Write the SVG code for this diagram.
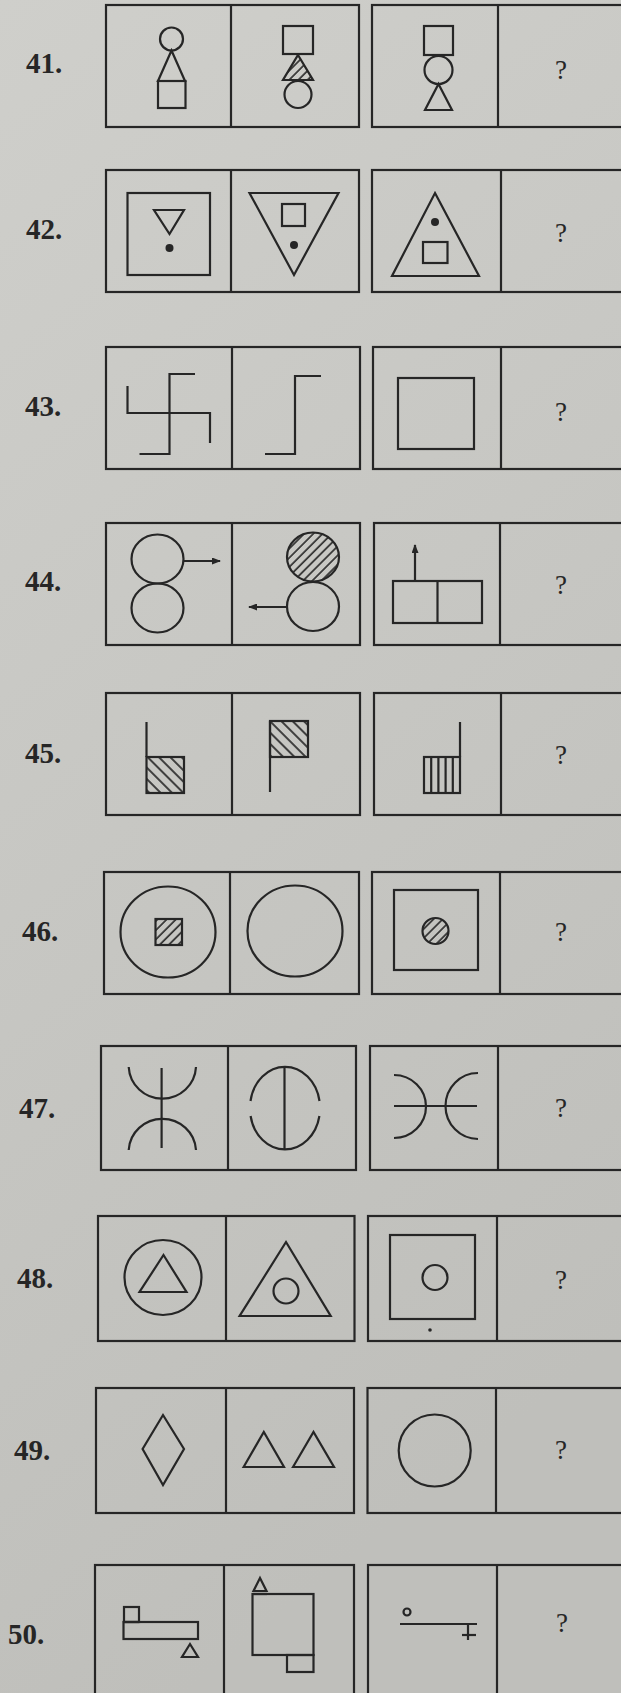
<svg xmlns="http://www.w3.org/2000/svg" width="621" height="1693" viewBox="0 0 621 1693">
<defs>
<linearGradient id="paper" x1="0" y1="0" x2="0.3" y2="1">
<stop offset="0" stop-color="#cfcfcb"/>
<stop offset="1" stop-color="#bfbfbb"/>
</linearGradient>
<pattern id="hatchF" patternUnits="userSpaceOnUse" width="6.5" height="6.5" patternTransform="rotate(45)">
<line x1="1" y1="0" x2="1" y2="6.5" stroke="#262626" stroke-width="1.6"/>
</pattern>
<pattern id="hatchB" patternUnits="userSpaceOnUse" width="8" height="8" patternTransform="rotate(-45)">
<line x1="1" y1="0" x2="1" y2="8" stroke="#262626" stroke-width="1.7"/>
</pattern>
<marker id="arr" markerWidth="9" markerHeight="7" refX="8" refY="3.5" orient="auto" markerUnits="userSpaceOnUse">
<path d="M0,0 L9,3.5 L0,7 z" fill="#262626"/>
</marker>
</defs>
<style>
.box{fill:none;stroke:#262626;stroke-width:2.2}
.s{fill:none;stroke:#262626;stroke-width:2.2}
.hf{fill:url(#hatchF)}
.hb{fill:url(#hatchB)}
.dot{fill:#262626}
.num{font-family:"Liberation Serif",serif;font-weight:bold;font-size:29px;fill:#262626}
.q{font-family:"Liberation Serif",serif;font-size:27px;fill:#262626;text-anchor:middle}
</style>
<rect x="0" y="0" width="621" height="1693" fill="url(#paper)"/>

<!-- 41 -->
<g id="q41">
<text class="num" x="26" y="73">41.</text>
<rect class="box" x="106" y="5" width="253" height="122"/>
<line class="box" x1="231" y1="5" x2="231" y2="127"/>
<rect class="box" x="372" y="5" width="270" height="122"/>
<line class="box" x1="498" y1="5" x2="498" y2="127"/>
<g id="q41-a">
<circle class="s" cx="171.5" cy="39" r="11.5"/>
<path class="s" d="M171.5,50.5 L185,81 L158,81 Z"/>
<rect class="s" x="158" y="81" width="27.5" height="27"/>
</g>
<g id="q41-b">
<rect class="s" x="283" y="26" width="30" height="28"/>
<path class="s hf" d="M298,55 L313,80 L283,80 Z"/>
<circle class="s" cx="298" cy="94.5" r="13.5"/>
</g>
<g id="q41-c">
<rect class="s" x="424" y="26" width="29" height="29"/>
<circle class="s" cx="438.5" cy="70" r="14"/>
<path class="s" d="M438.5,84 L452,110 L425,110 Z"/>
</g>
<text class="q" x="561" y="79">?</text>
</g>

<!-- 42 -->
<g id="q42">
<text class="num" x="26" y="239">42.</text>
<rect class="box" x="106" y="170" width="253" height="122"/>
<line class="box" x1="231" y1="170" x2="231" y2="292"/>
<rect class="box" x="372" y="170" width="270" height="122"/>
<line class="box" x1="501" y1="170" x2="501" y2="292"/>
<g id="q42-a">
<rect class="s" x="127.5" y="193" width="82.5" height="82"/>
<path class="s" d="M154,210 L184,210 L169.5,234 Z"/>
<circle class="dot" cx="169.5" cy="248" r="4"/>
</g>
<g id="q42-b">
<path class="s" d="M249.5,193 L338.5,193 L294,275 Z"/>
<rect class="s" x="282" y="204" width="23" height="22"/>
<circle class="dot" cx="294" cy="245" r="4"/>
</g>
<g id="q42-c">
<path class="s" d="M435,193 L479,276 L392,276 Z"/>
<circle class="dot" cx="435" cy="222" r="4"/>
<rect class="s" x="423" y="242" width="24.5" height="21"/>
</g>
<text class="q" x="561" y="242">?</text>
</g>

<!-- 43 -->
<g id="q43">
<text class="num" x="25" y="416">43.</text>
<rect class="box" x="106" y="347" width="254" height="122"/>
<line class="box" x1="232" y1="347" x2="232" y2="469"/>
<rect class="box" x="373" y="347" width="270" height="122"/>
<line class="box" x1="501" y1="347" x2="501" y2="469"/>
<g id="q43-a">
<path class="s" d="M195,374 L169.5,374 L169.5,454 L139.5,454"/>
<path class="s" d="M127.5,386 L127.5,413 L210,413 L210,443"/>
</g>
<g id="q43-b">
<path class="s" d="M321,376 L295,376 L295,454 L265,454"/>
</g>
<g id="q43-c">
<rect class="s" x="398" y="378" width="76" height="71"/>
</g>
<text class="q" x="561" y="421">?</text>
</g>

<!-- 44 -->
<g id="q44">
<text class="num" x="25" y="591">44.</text>
<rect class="box" x="106" y="523" width="254" height="122"/>
<line class="box" x1="232" y1="523" x2="232" y2="645"/>
<rect class="box" x="374" y="523" width="270" height="122"/>
<line class="box" x1="500" y1="523" x2="500" y2="645"/>
<g id="q44-a">
<ellipse class="s" cx="157.5" cy="559" rx="26" ry="24.5"/>
<ellipse class="s" cx="157.5" cy="608" rx="26" ry="24.5"/>
</g>
<g id="q44-b">
<ellipse class="s hf" cx="313" cy="557" rx="26" ry="24.5"/>
<ellipse class="s" cx="313" cy="606.5" rx="26" ry="24.5"/>
</g>
<g id="q44-c">
<rect class="s" x="393" y="581" width="89" height="42"/>
<line class="s" x1="437.5" y1="581" x2="437.5" y2="623"/>
</g>
<g id="connectors">
<line class="s" x1="184" y1="561" x2="220" y2="561" marker-end="url(#arr)"/>
<line class="s" x1="287" y1="607" x2="249" y2="607" marker-end="url(#arr)"/>
<line class="s" x1="415" y1="581" x2="415" y2="545" marker-end="url(#arr)"/>
</g>
<text class="q" x="561" y="594">?</text>
</g>

<!-- 45 -->
<g id="q45">
<text class="num" x="25" y="763">45.</text>
<rect class="box" x="106" y="693" width="254" height="122"/>
<line class="box" x1="232" y1="693" x2="232" y2="815"/>
<rect class="box" x="374" y="693" width="270" height="122"/>
<line class="box" x1="501" y1="693" x2="501" y2="815"/>
<g id="q45-a">
<line class="s" x1="146.5" y1="722" x2="146.5" y2="757"/>
<rect class="s hb" x="146.5" y="757" width="37.5" height="36"/>
</g>
<g id="q45-b">
<rect class="s hb" x="270" y="721" width="38" height="36"/>
<line class="s" x1="270" y1="721" x2="270" y2="792"/>
</g>
<g id="q45-c">
<line class="s" x1="460" y1="722" x2="460" y2="757"/>
<rect class="s" x="424" y="757" width="36" height="36"/>
<path class="s" stroke-width="1.5" d="M431.2,757 V793 M438.4,757 V793 M445.6,757 V793 M452.8,757 V793"/>
</g>
<text class="q" x="561" y="764">?</text>
</g>

<!-- 46 -->
<g id="q46">
<text class="num" x="22" y="941">46.</text>
<rect class="box" x="104" y="872" width="255" height="122"/>
<line class="box" x1="230" y1="872" x2="230" y2="994"/>
<rect class="box" x="372" y="872" width="270" height="122"/>
<line class="box" x1="500" y1="872" x2="500" y2="994"/>
<g id="q46-a">
<ellipse class="s" cx="168" cy="932" rx="47.5" ry="45.5"/>
<rect class="s hf" x="155.5" y="919" width="26.5" height="26"/>
</g>
<g id="q46-b">
<ellipse class="s" cx="295" cy="931" rx="47.5" ry="45.5"/>
</g>
<g id="q46-c">
<rect class="s" x="394" y="890" width="84" height="80"/>
<circle class="s hf" cx="435.5" cy="931" r="13"/>
</g>
<text class="q" x="561" y="941">?</text>
</g>

<!-- 47 -->
<g id="q47">
<text class="num" x="19" y="1118">47.</text>
<rect class="box" x="101" y="1046" width="255" height="124"/>
<line class="box" x1="228" y1="1046" x2="228" y2="1170"/>
<rect class="box" x="370" y="1046" width="270" height="124"/>
<line class="box" x1="498" y1="1046" x2="498" y2="1170"/>
<g id="q47-a">
<line class="s" x1="161.6" y1="1068" x2="161.6" y2="1148"/>
<path class="s" d="M128.7,1067 A33.7,33.5 0 0 0 196,1067"/>
<path class="s" d="M128.7,1150 A33.7,33 0 0 1 196,1150"/>
</g>
<g id="q47-b">
<line class="s" x1="284.5" y1="1067" x2="284.5" y2="1149"/>
<path class="s" d="M250.5,1101 A35,41 0 0 1 319.5,1101"/>
<path class="s" d="M250.6,1116 A35,41 0 0 0 319.4,1116"/>
</g>
<g id="q47-c">
<line class="s" x1="394" y1="1106" x2="477" y2="1106"/>
<path class="s" d="M394,1075 A32,31.5 0 0 1 394,1138"/>
<path class="s" d="M478,1073 A32.5,33 0 0 0 478,1139"/>
</g>
<text class="q" x="561" y="1117">?</text>
</g>

<!-- 48 -->
<g id="q48">
<text class="num" x="17" y="1288">48.</text>
<rect class="box" x="98" y="1216" width="256.5" height="125"/>
<line class="box" x1="226" y1="1216" x2="226" y2="1341"/>
<rect class="box" x="368" y="1216" width="270" height="125"/>
<line class="box" x1="497" y1="1216" x2="497" y2="1341"/>
<g id="q48-a">
<ellipse class="s" cx="163" cy="1277.5" rx="38.5" ry="37.5"/>
<path class="s" d="M163.5,1255 L186.5,1292 L139.5,1292 Z"/>
</g>
<g id="q48-b">
<path class="s" d="M286,1242 L330.7,1316 L239.6,1316 Z"/>
<circle class="s" cx="286" cy="1291" r="12.5"/>
</g>
<g id="q48-c">
<rect class="s" x="390" y="1235" width="85" height="84"/>
<circle class="s" cx="435" cy="1277.5" r="12.5"/>
<circle class="dot" cx="430" cy="1330" r="1.8"/>
</g>
<text class="q" x="561" y="1289">?</text>
</g>

<!-- 49 -->
<g id="q49">
<text class="num" x="14" y="1460">49.</text>
<rect class="box" x="96" y="1388" width="258" height="125"/>
<line class="box" x1="226" y1="1388" x2="226" y2="1513"/>
<rect class="box" x="367.5" y="1388" width="270" height="125"/>
<line class="box" x1="496" y1="1388" x2="496" y2="1513"/>
<g id="q49-a">
<path class="s" d="M163,1415 L184,1449 L163,1485 L142.6,1449 Z"/>
</g>
<g id="q49-b">
<path class="s" d="M243.6,1467 L263.8,1432 L284,1467 Z"/>
<path class="s" d="M293,1467 L313.5,1432 L334,1467 Z"/>
</g>
<g id="q49-c">
<circle class="s" cx="434.7" cy="1450.5" r="36"/>
</g>
<text class="q" x="561" y="1459">?</text>
</g>

<!-- 50 -->
<g id="q50">
<text class="num" x="8" y="1644">50.</text>
<rect class="box" x="95" y="1565" width="259" height="140"/>
<line class="box" x1="224" y1="1565" x2="224" y2="1705"/>
<rect class="box" x="368" y="1565" width="270" height="140"/>
<line class="box" x1="497" y1="1565" x2="497" y2="1705"/>
<g id="q50-a">
<rect class="s" x="124" y="1607" width="15" height="15"/>
<rect class="s" x="123.5" y="1622" width="74.5" height="17"/>
<line class="s" stroke-width="3" x1="124" y1="1622" x2="139" y2="1622"/>
<path class="s" d="M190,1644 L198,1657 L182,1657 Z"/>
</g>
<g id="q50-b">
<path class="s" d="M260,1578 L266.5,1591 L253.5,1591 Z"/>
<rect class="s" x="252.5" y="1594" width="61" height="61"/>
<line class="s" stroke-width="3" x1="253" y1="1594" x2="267" y2="1594"/>
<rect class="s" x="287" y="1655" width="26.5" height="17"/>
</g>
<g id="q50-c">
<circle class="s" cx="407" cy="1612" r="3.5" stroke-width="1.8"/>
<line class="s" x1="400" y1="1624" x2="477" y2="1624"/>
<line class="s" x1="468" y1="1624" x2="468" y2="1640"/>
<line class="s" x1="462" y1="1635" x2="476" y2="1635"/>
</g>
<text class="q" x="562" y="1632">?</text>
</g>
</svg>
